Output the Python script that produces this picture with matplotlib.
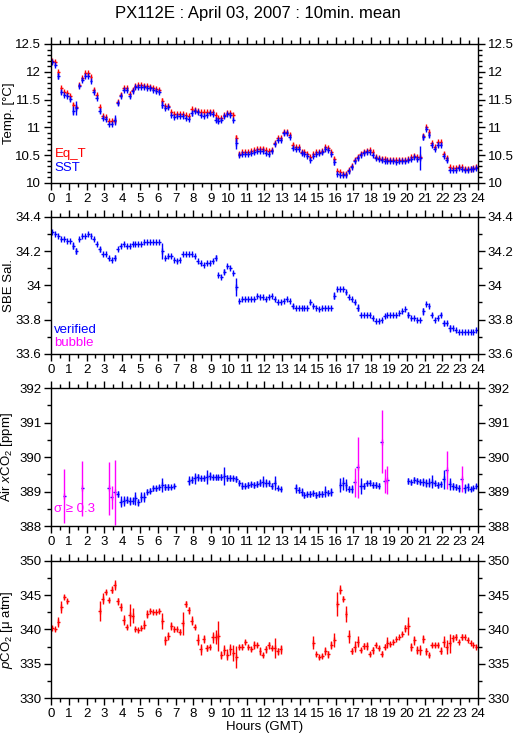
import numpy as np
import matplotlib
matplotlib.use("Agg")
import matplotlib.pyplot as plt
from matplotlib.ticker import MultipleLocator, FuncFormatter

plt.rcParams['font.family'] = ['Liberation Sans', 'DejaVu Sans']
plt.rcParams['mathtext.fontset'] = 'custom'
plt.rcParams['mathtext.rm'] = 'Liberation Sans'
plt.rcParams['mathtext.it'] = 'Liberation Sans:italic'

RED = '#ff0000'
BLUE = '#0000ff'
MAGENTA = '#ff00ff'

# 10 minute bins, one row per hour
eq_t = [
    12.20, 12.17, 11.99, 11.71, 11.63, 11.62,
    11.56, 11.41, 11.37, 11.76, 11.88, 11.97,
    11.97, 11.90, 11.68, 11.58, 11.37, 11.21,
    11.19, 11.12, 11.11, 11.12, 11.46, 11.59,
    11.71, 11.71, 11.60, 11.68, 11.74, 11.76,
    11.76, 11.75, 11.74, 11.73, 11.71, 11.69,
    11.67, 11.48, 11.39, 11.39, 11.27, 11.24,
    11.24, 11.24, 11.24, 11.22, 11.20, 11.33,
    11.32, 11.30, 11.28, 11.27, 11.27, 11.28,
    11.27, 11.22, 11.17, 11.17, 11.22, 11.26,
    11.26, 11.23, 10.80, 10.53, 10.55, 10.56,
    10.56, 10.58, 10.59, 10.61, 10.62, 10.62,
    10.60, 10.58, 10.60, 10.72, 10.80, 10.80,
    10.91, 10.92, 10.87, 10.68, 10.64, 10.64,
    10.56, 10.56, 10.52, 10.46, 10.52, 10.55,
    10.56, 10.58, 10.64, 10.63, 10.55, 10.44,
    10.22, 10.20, 10.17, 10.17, 10.24, 10.31,
    10.42, 10.47, 10.52, 10.56, 10.58, 10.60,
    10.55, 10.47, 10.45, 10.44, 10.43, 10.42,
    10.41, 10.41, 10.41, 10.41, 10.42, 10.42,
    10.43, 10.46, 10.48, 10.46, 10.46, 10.85,
    11.00, 10.91, 10.71, 10.64, 10.73, 10.73,
    10.53, 10.45, 10.28, 10.27, 10.27, 10.29,
    10.28, 10.26, 10.26, 10.26, 10.27, 10.28,
]
eq_t_err = [
    0.02, 0.02, 0.03, 0.02, 0.02, 0.02,
    0.02, 0.03, 0.02, 0.02, 0.02, 0.02,
    0.02, 0.02, 0.02, 0.02, 0.02, 0.02,
    0.02, 0.02, 0.02, 0.02, 0.02, 0.02,
    0.02, 0.02, 0.02, 0.02, 0.02, 0.02,
    0.02, 0.02, 0.02, 0.02, 0.02, 0.02,
    0.02, 0.04, 0.02, 0.02, 0.02, 0.02,
    0.02, 0.02, 0.02, 0.02, 0.02, 0.02,
    0.02, 0.02, 0.02, 0.02, 0.02, 0.02,
    0.02, 0.02, 0.02, 0.02, 0.02, 0.02,
    0.02, 0.02, 0.06, 0.02, 0.02, 0.02,
    0.02, 0.02, 0.02, 0.02, 0.02, 0.02,
    0.02, 0.02, 0.02, 0.02, 0.02, 0.02,
    0.02, 0.02, 0.02, 0.03, 0.02, 0.02,
    0.02, 0.02, 0.02, 0.02, 0.02, 0.02,
    0.02, 0.02, 0.02, 0.02, 0.02, 0.03,
    0.02, 0.02, 0.02, 0.02, 0.02, 0.02,
    0.02, 0.02, 0.02, 0.02, 0.02, 0.02,
    0.02, 0.02, 0.02, 0.02, 0.02, 0.02,
    0.02, 0.02, 0.02, 0.02, 0.02, 0.02,
    0.02, 0.02, 0.02, 0.02, 0.02, 0.03,
    0.02, 0.03, 0.02, 0.02, 0.02, 0.02,
    0.02, 0.04, 0.02, 0.02, 0.02, 0.02,
    0.02, 0.02, 0.02, 0.02, 0.02, 0.02,
]
sst = [
    12.18, 12.12, 11.92, 11.64, 11.58, 11.57,
    11.51, 11.30, 11.35, 11.74, 11.86, 11.92,
    11.93, 11.84, 11.64, 11.53, 11.30, 11.17,
    11.15, 11.06, 11.06, 11.14, 11.43, 11.56,
    11.68, 11.67, 11.56, 11.66, 11.72, 11.73,
    11.73, 11.73, 11.71, 11.70, 11.68, 11.65,
    11.64, 11.41, 11.35, 11.37, 11.22, 11.19,
    11.20, 11.20, 11.21, 11.17, 11.15, 11.25,
    11.30, 11.28, 11.23, 11.21, 11.22, 11.25,
    11.24, 11.14, 11.12, 11.14, 11.20, 11.24,
    11.23, 11.14, 10.71, 10.50, 10.52, 10.53,
    10.52, 10.54, 10.55, 10.57, 10.58, 10.58,
    10.54, 10.52, 10.58, 10.70, 10.77, 10.78,
    10.89, 10.90, 10.83, 10.63, 10.62, 10.62,
    10.54, 10.53, 10.49, 10.42, 10.49, 10.53,
    10.54, 10.55, 10.61, 10.60, 10.52, 10.38,
    10.16, 10.15, 10.15, 10.14, 10.21, 10.29,
    10.39, 10.45, 10.51, 10.54, 10.56, 10.56,
    10.51, 10.45, 10.43, 10.41, 10.40, 10.39,
    10.39, 10.39, 10.38, 10.39, 10.40, 10.39,
    10.41, 10.44, 10.46, 10.44, 10.45, 10.83,
    10.97, 10.86, 10.69, 10.62, 10.69, 10.69,
    10.49, 10.42, 10.24, 10.24, 10.24, 10.27,
    10.25, 10.24, 10.24, 10.25, 10.26, 10.27,
]
sst_err = [
    0.02, 0.02, 0.05, 0.04, 0.02, 0.02,
    0.03, 0.08, 0.12, 0.02, 0.02, 0.02,
    0.02, 0.02, 0.03, 0.02, 0.04, 0.02,
    0.02, 0.02, 0.02, 0.09, 0.02, 0.02,
    0.02, 0.02, 0.03, 0.02, 0.02, 0.02,
    0.02, 0.02, 0.02, 0.02, 0.02, 0.03,
    0.02, 0.07, 0.02, 0.02, 0.02, 0.02,
    0.02, 0.02, 0.02, 0.02, 0.02, 0.04,
    0.02, 0.02, 0.02, 0.02, 0.02, 0.02,
    0.02, 0.05, 0.04, 0.02, 0.02, 0.02,
    0.02, 0.03, 0.10, 0.02, 0.02, 0.02,
    0.02, 0.02, 0.02, 0.02, 0.02, 0.02,
    0.02, 0.03, 0.02, 0.02, 0.02, 0.02,
    0.02, 0.02, 0.02, 0.04, 0.02, 0.02,
    0.02, 0.02, 0.02, 0.03, 0.02, 0.02,
    0.02, 0.02, 0.04, 0.02, 0.02, 0.05,
    0.02, 0.02, 0.02, 0.02, 0.03, 0.02,
    0.02, 0.03, 0.02, 0.02, 0.02, 0.02,
    0.02, 0.02, 0.02, 0.02, 0.02, 0.02,
    0.02, 0.02, 0.02, 0.02, 0.02, 0.02,
    0.02, 0.02, 0.02, 0.02, 0.21, 0.05,
    0.02, 0.04, 0.02, 0.02, 0.04, 0.02,
    0.02, 0.05, 0.02, 0.02, 0.02, 0.02,
    0.02, 0.02, 0.02, 0.02, 0.02, 0.02,
]
salinity = [
    34.31, 34.30, 34.29, 34.27, 34.27, 34.26,
    34.26, 34.23, 34.20, 34.27, 34.29, 34.29,
    34.30, 34.29, 34.27, 34.24, 34.21, 34.18,
    34.18, 34.16, 34.15, 34.16, 34.21, 34.23,
    34.24, 34.23, 34.23, 34.24, 34.24, 34.24,
    34.24, 34.25, 34.25, 34.25, 34.25, 34.25,
    34.25, 34.20, 34.16, 34.17, 34.17, 34.15,
    34.14, 34.15, 34.18, 34.18, 34.18, 34.18,
    34.17, 34.14, 34.13, 34.12, 34.13, 34.13,
    34.14, 34.16, 34.06, 34.05, 34.08, 34.11,
    34.10, 34.07, 33.99, 33.91, 33.92, 33.92,
    33.92, 33.92, 33.92, 33.94, 33.93, 33.93,
    33.92, 33.93, 33.94, 33.92, 33.90, 33.90,
    33.91, 33.92, 33.91, 33.88, 33.87, 33.87,
    33.87, 33.87, 33.87, 33.90, 33.88, 33.87,
    33.86, 33.87, 33.87, 33.87, 33.87, 33.94,
    33.98, 33.98, 33.98, 33.96, 33.93, 33.92,
    33.90, 33.87, 33.83, 33.83, 33.83, 33.83,
    33.81, 33.79, 33.79, 33.80, 33.82, 33.83,
    33.83, 33.83, 33.83, 33.84, 33.85, 33.86,
    33.83, 33.81, 33.81, 33.80, 33.80, 33.85,
    33.89, 33.88, 33.83, 33.80, 33.81, 33.83,
    33.78, 33.78, 33.75, 33.75, 33.74, 33.73,
    33.73, 33.73, 33.73, 33.73, 33.73, 33.74,
]
salinity_err = [
    0.004, 0.004, 0.004, 0.004, 0.004, 0.004,
    0.004, 0.02, 0.02, 0.006, 0.004, 0.004,
    0.004, 0.004, 0.006, 0.006, 0.015, 0.004,
    0.004, 0.004, 0.004, 0.015, 0.004, 0.004,
    0.004, 0.004, 0.004, 0.004, 0.004, 0.004,
    0.004, 0.004, 0.004, 0.004, 0.004, 0.004,
    0.004, 0.045, 0.004, 0.008, 0.006, 0.004,
    0.004, 0.004, 0.004, 0.004, 0.004, 0.004,
    0.006, 0.004, 0.004, 0.004, 0.004, 0.004,
    0.006, 0.015, 0.008, 0.006, 0.015, 0.006,
    0.004, 0.006, 0.05, 0.006, 0.004, 0.004,
    0.004, 0.004, 0.004, 0.006, 0.004, 0.004,
    0.004, 0.004, 0.004, 0.008, 0.004, 0.004,
    0.004, 0.004, 0.004, 0.01, 0.004, 0.004,
    0.004, 0.004, 0.004, 0.006, 0.006, 0.004,
    0.004, 0.004, 0.004, 0.004, 0.004, 0.02,
    0.004, 0.004, 0.004, 0.008, 0.006, 0.004,
    0.01, 0.02, 0.004, 0.004, 0.004, 0.004,
    0.006, 0.004, 0.004, 0.004, 0.006, 0.004,
    0.004, 0.004, 0.004, 0.004, 0.004, 0.004,
    0.015, 0.008, 0.004, 0.006, 0.006, 0.02,
    0.006, 0.004, 0.008, 0.004, 0.004, 0.008,
    0.015, 0.004, 0.02, 0.006, 0.004, 0.004,
    0.004, 0.004, 0.004, 0.004, 0.004, 0.004,
]
xco2 = [
    None, None, None, None, 388.87, None,
    None, None, None, None, 389.09, None,
    None, None, None, None, None, None,
    None, 389.09, 388.83, 388.98, 388.93, 388.71,
    388.73, 388.77, 388.73, 388.73, 388.80, 388.69,
    388.85, 388.85, 389.00, 389.03, 389.09, 389.09,
    389.12, 389.19, 389.14, 389.14, 389.12, 389.16,
    None, None, None, None, 389.32, 389.34,
    389.38, 389.41, 389.38, 389.38, 389.43, 389.45,
    389.41, 389.41, 389.41, 389.43, 389.45, 389.40,
    389.40, 389.38, 389.36, 389.26, 389.17, 389.17,
    389.19, 389.21, 389.19, 389.22, 389.26, 389.29,
    389.24, 389.24, 389.16, 389.24, 389.09, 389.07,
    None, None, None, None, 389.09, 389.05,
    388.98, 388.90, 388.92, 388.93, 388.95, 388.90,
    388.93, 388.93, 389.00, 388.97, 388.98, None,
    None, 389.19, 389.24, 389.19, 389.07, 389.07,
    389.27, 389.70, 389.16, 389.16, 389.24, 389.26,
    389.19, 389.19, 389.17, 390.45, 389.31, 389.34,
    None, None, None, None, None, None,
    389.31, 389.27, 389.34, 389.31, 389.29, 389.27,
    389.24, 389.26, 389.29, 389.24, 389.19, 389.21,
    389.36, 389.63, 389.22, 389.16, 389.14, 389.09,
    389.36, 389.09, 389.14, 389.07, 389.11, 389.16,
]
xco2_err = [
    0, 0, 0, 0, 0.78, 0,
    0, 0, 0, 0, 0.80, 0,
    0, 0, 0, 0, 0, 0,
    0, 0.76, 0.33, 0.95, 0.10, 0.15,
    0.15, 0.10, 0.12, 0.10, 0.20, 0.10,
    0.15, 0.15, 0.08, 0.08, 0.08, 0.08,
    0.08, 0.20, 0.08, 0.08, 0.05, 0.05,
    0, 0, 0, 0, 0.12, 0.10,
    0.15, 0.10, 0.08, 0.08, 0.20, 0.12,
    0.08, 0.08, 0.08, 0.08, 0.27, 0.08,
    0.08, 0.08, 0.08, 0.08, 0.10, 0.08,
    0.10, 0.08, 0.10, 0.08, 0.10, 0.17,
    0.12, 0.08, 0.08, 0.20, 0.05, 0.05,
    0, 0, 0, 0, 0.12, 0.08,
    0.12, 0.08, 0.08, 0.10, 0.08, 0.08,
    0.08, 0.08, 0.15, 0.08, 0.12, 0,
    0, 0.20, 0.18, 0.17, 0.08, 0.12,
    0.42, 0.88, 0.24, 0.08, 0.08, 0.08,
    0.08, 0.08, 0.08, 0.92, 0.35, 0.40,
    0, 0, 0, 0, 0, 0,
    0.08, 0.08, 0.08, 0.08, 0.08, 0.12,
    0.12, 0.12, 0.18, 0.08, 0.08, 0.08,
    0.28, 0.55, 0.18, 0.10, 0.08, 0.10,
    0.37, 0.13, 0.12, 0.06, 0.06, 0.06,
]
# bins with sigma >= 0.3 (drawn in magenta)
xco2_flagged = [4, 10, 19, 20, 21, 102, 103, 111, 112, 113, 133, 138]

pco2 = [
    340.17, 340.0, 341.1, 343.3, 344.7, 344.2,
    None, None, None, None, None, None,
    None, None, None, None, 342.7, 344.5,
    345.4, 344.3, 345.8, 346.5, 344.1, 343.3,
    341.4, 340.3, 342.1, 342.0, 340.1, 339.9,
    340.2, 340.7, 342.25, 342.7, 342.5, 342.5,
    342.7, 341.2, 338.4, 339.1, 340.5, 340.0,
    340.0, 339.7, 340.9, 343.7, 342.8, 341.3,
    340.3, 338.5, 337.1, 338.6, 337.3, 337.4,
    338.9, 338.9, 339.1, 336.3, 337.0, 336.3,
    337.1, 336.6, 336.0, 337.4, 337.5, 338.2,
    337.5, 337.1, 337.7, 337.7, 336.9, 336.3,
    337.1, 337.7, 337.3, 337.3, 336.8, 337.1,
    None, None, None, None, None, None,
    None, None, None, None, 338.1, 336.4,
    336.0, 336.2, 336.9, 336.4, 337.7, 338.5,
    343.7, 345.8, 344.5, 342.25, 339.0, 336.9,
    337.5, 338.2, 337.0, 337.6, 337.6, 336.4,
    337.0, 337.7, 337.3, 336.5, 337.5, 338.1,
    337.9, 338.2, 338.6, 338.9, 339.3, 340.2,
    340.5, 337.4, 338.4, 337.0, 337.0, 338.6,
    336.8, 336.3, 337.7, 337.7, 337.7, 336.9,
    338.2, 337.5, 338.0, 338.7, 338.9, 338.2,
    338.9, 338.9, 338.5, 338.1, 337.7, 337.5,
]
pco2_err = [
    0.3, 0.2, 0.7, 0.9, 0.3, 0.3,
    0, 0, 0, 0, 0, 0,
    0, 0, 0, 0, 1.45, 0.8,
    0.3, 0.3, 0.5, 0.7, 0.5, 0.6,
    0.7, 0.3, 1.6, 1.1, 0.3, 0.2,
    0.3, 0.7, 0.6, 0.3, 0.2, 0.2,
    0.3, 1.2, 0.7, 0.6, 0.6, 0.3,
    0.2, 0.3, 1.7, 0.4, 0.5, 0.6,
    0.3, 0.8, 0.8, 0.6, 0.5, 0.3,
    0.8, 1.0, 2.2, 0.6, 0.7, 0.8,
    0.8, 1.2, 1.6, 0.3, 0.4, 0.3,
    0.3, 0.3, 0.6, 0.3, 0.6, 0.3,
    0.5, 0.5, 0.3, 1.5, 0.5, 0.6,
    0, 0, 0, 0, 0, 0,
    0, 0, 0, 0, 1.0, 0.2,
    0.3, 0.3, 0.6, 0.5, 0.6, 1.0,
    1.7, 0.7, 0.4, 1.2, 0.9, 0.4,
    0.8, 0.8, 0.3, 0.5, 0.6, 0.3,
    0.5, 0.3, 0.3, 0.4, 0.4, 0.8,
    0.3, 0.2, 0.2, 0.2, 0.3, 0.5,
    1.3, 0.6, 0.6, 0.6, 0.7, 0.6,
    0.5, 0.3, 0.3, 0.3, 0.3, 0.5,
    0.8, 1.0, 1.4, 0.5, 0.4, 0.2,
    0.4, 0.2, 0.2, 0.2, 0.2, 0.2,
]

hours = (np.arange(144) + 0.5) / 6.0
half_bin = 1.0 / 12.0
LW = 1.0


def fmt_g(v, pos):
    return '%g' % round(v, 3)


def style_axis(ax, ylim, major, minor):
    ax.set_xlim(0, 24)
    ax.set_ylim(*ylim)
    ax.xaxis.set_major_locator(MultipleLocator(1))
    ax.xaxis.set_minor_locator(MultipleLocator(0.5))
    ax.yaxis.set_major_locator(MultipleLocator(major))
    ax.yaxis.set_minor_locator(MultipleLocator(minor))
    ax.yaxis.set_major_formatter(FuncFormatter(fmt_g))
    ax.tick_params(which='both', direction='out', top=True, right=True,
                   labelright=True, labelsize=9.5, width=1, pad=2)
    ax.tick_params(which='major', length=5)
    ax.tick_params(which='minor', length=3)
    for s in ax.spines.values():
        s.set_linewidth(1)
    ax.yaxis.set_label_coords(-0.085, 0.5)


def draw(ax, x, y, err, color, hbar=True):
    # each 10 min mean: a '+' (bin width horizontally, std dev vertically)
    y = np.array(y, dtype=float)
    if hbar:
        ax.errorbar(x, y, xerr=half_bin, fmt='none', ecolor=color, elinewidth=LW)
    ax.errorbar(x, y, yerr=err, fmt='none', ecolor=color, elinewidth=LW)
    ax.plot(x, y, linestyle='none', marker='|', markersize=4,
            markeredgewidth=LW, color=color)


fig = plt.figure(figsize=(5.15, 7.39), dpi=100)
left, width = 0.099, 0.829
ax1 = fig.add_axes([left, 0.7524, width, 0.1881])
ax2 = fig.add_axes([left, 0.5210, width, 0.1858])
ax3 = fig.add_axes([left, 0.2882, width, 0.1864])
ax4 = fig.add_axes([left, 0.0551, width, 0.1862])

# temperature
draw(ax1, hours, eq_t, eq_t_err, RED)
draw(ax1, hours, sst, sst_err, BLUE)
style_axis(ax1, (10, 12.5), 0.5, 0.1)
ax1.set_ylabel('Temp. [°C]', fontsize=9.5)
ax1.text(0.008, 0.19, 'Eq_T', color=RED, fontsize=9.5, transform=ax1.transAxes)
ax1.text(0.008, 0.085, 'SST', color=BLUE, fontsize=9.5, transform=ax1.transAxes)

# salinity
draw(ax2, hours, salinity, salinity_err, BLUE)
style_axis(ax2, (33.6, 34.4), 0.2, 0.1)
ax2.set_ylabel('SBE Sal.', fontsize=9.5)
ax2.text(0.008, 0.15, 'verified', color=BLUE, fontsize=9.5, transform=ax2.transAxes)
ax2.text(0.008, 0.055, 'bubble', color=MAGENTA, fontsize=9.5, transform=ax2.transAxes)

# air xCO2
xv = np.array(xco2, dtype=float)
xe = np.array(xco2_err, dtype=float)
bad = np.zeros(144, dtype=bool)
bad[xco2_flagged] = True
ax3.errorbar(hours, xv, xerr=half_bin, fmt='none', ecolor=BLUE, elinewidth=LW)
draw(ax3, hours[~bad], xv[~bad], xe[~bad], BLUE, hbar=False)
draw(ax3, hours[bad], xv[bad], xe[bad], MAGENTA, hbar=False)
style_axis(ax3, (388, 392), 1, 0.5)
ax3.set_ylabel(r'Air $\mathit{x}$CO$_2$ [ppm]', fontsize=9.5)
ax3.text(0.008, 0.1, 'σ ≥ 0.3', color=MAGENTA, fontsize=9.5, transform=ax3.transAxes)

# pCO2
draw(ax4, hours, pco2, pco2_err, RED)
style_axis(ax4, (330, 350), 5, 2.5)
ax4.set_ylabel(r'$\mathit{p}$CO$_2$ [μ atm]', fontsize=9.5)
ax4.set_xlabel('Hours (GMT)', fontsize=9.5, labelpad=1)

fig.suptitle('PX112E : April 03, 2007 : 10min. mean', y=0.992, fontsize=12)

fig.savefig('out.png', dpi=100)
